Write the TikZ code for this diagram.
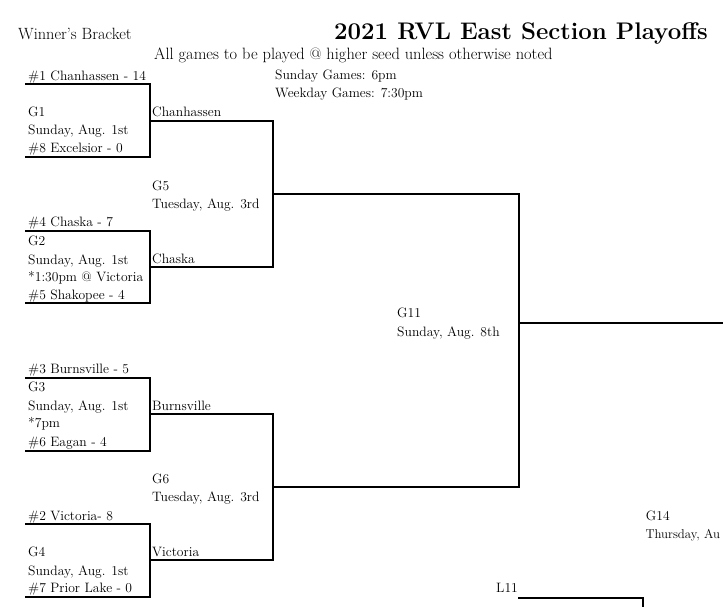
\documentclass[tikz,border=0pt]{standalone}
\begin{document}
\begin{tikzpicture}[x=1pt,y=-1pt]
\tikzset{
  lbl/.style={anchor=base west, inner sep=0pt, font=\fontsize{13.6}{15}\selectfont},
  brk/.style={line width=2.3pt, line join=miter},
}
\useasboundingbox (0,0) rectangle (723,607);
\clip (0,0) rectangle (723,607);
% headings
\node[lbl, font=\fontsize{16.3}{18}\selectfont] (wb) at (18,39.3) {Winner's Bracket};
\node[anchor=base west, inner sep=0pt, font=\fontsize{24}{27}\bfseries\selectfont] (title) at (334,40) {2021 RVL East Section Playoffs};
\node[lbl, font=\fontsize{16.4}{18}\selectfont] (sub) at (154,60) {All games to be played @ higher seed unless otherwise noted};
\node[lbl] (sun) at (275,80) {Sunday Games: 6pm};
\node[lbl] (wkd) at (275,98) {Weekday Games: 7:30pm};
% G1
\node[lbl] (s1) at (28,80.5) {\#1 Chanhassen - 14};
\node[lbl] (g1) at (28,117) {G1};
\node[lbl] (g1d) at (28,135) {Sunday, Aug. 1st};
\node[lbl] (s8) at (28,152.7) {\#8 Excelsior - 0};
\node[lbl] (w1t) at (152,116.7) {Chanhassen};
% G5
\node[lbl] (g5) at (152,190) {G5};
\node[lbl] (g5d) at (152,208.3) {Tuesday, Aug. 3rd};
% G2
\node[lbl] (s4) at (28,226.7) {\#4 Chaska - 7};
\node[lbl] (g2) at (28,245) {G2};
\node[lbl] (g2d) at (28,264) {Sunday, Aug. 1st};
\node[lbl] (g2n) at (28,281.7) {*1:30pm @ Victoria};
\node[lbl] (s5) at (28,299.3) {\#5 Shakopee - 4};
\node[lbl] (w4t) at (152,263.3) {Chaska};
% G3
\node[lbl] (s3) at (28,373.3) {\#3 Burnsville - 5};
\node[lbl] (g3) at (28,391.7) {G3};
\node[lbl] (g3d) at (28,410) {Sunday, Aug. 1st};
\node[lbl] (g3n) at (28,427.7) {*7pm};
\node[lbl] (s6) at (28,446.7) {\#6 Eagan - 4};
\node[lbl] (w3t) at (152,410) {Burnsville};
% G6
\node[lbl] (g6) at (152,483.3) {G6};
\node[lbl] (g6d) at (152,501.7) {Tuesday, Aug. 3rd};
% G4
\node[lbl] (s2) at (28,520) {\#2 Victoria- 8};
\node[lbl] (g4) at (28,556.7) {G4};
\node[lbl] (g4d) at (28,575) {Sunday, Aug. 1st};
\node[lbl] (s7) at (28,592.7) {\#7 Prior Lake - 0};
\node[lbl] (w2t) at (152,556.7) {Victoria};
% G11, G14, L11
\node[lbl] (g11) at (397,317.3) {G11};
\node[lbl] (g11d) at (397,336.7) {Sunday, Aug. 8th};
\node[lbl] (g14) at (645.7,520) {G14};
\node[lbl, font=\fontsize{12.8}{14}\selectfont] (g14d) at (645.3,538.3) {Thursday, Au};
\node[lbl] (l11) at (496,592.3) {L11};
% bracket coordinates
\coordinate (a1) at (25,84);  \coordinate (a1r) at (150,84);
\coordinate (a8) at (25,157); \coordinate (a8r) at (150,157);
\coordinate (a4) at (25,231); \coordinate (a4r) at (150,231);
\coordinate (a5) at (25,303); \coordinate (a5r) at (150,303);
\coordinate (a3) at (25,378); \coordinate (a3r) at (150,378);
\coordinate (a6) at (25,451); \coordinate (a6r) at (150,451);
\coordinate (a2) at (25,524); \coordinate (a2r) at (150,524);
\coordinate (a7) at (25,597); \coordinate (a7r) at (150,597);
\coordinate (w1) at (150,121); \coordinate (w1e) at (273,121);
\coordinate (w4) at (150,267); \coordinate (w4e) at (273,267);
\coordinate (w3) at (150,414); \coordinate (w3e) at (273,414);
\coordinate (w2) at (150,560); \coordinate (w2e) at (273,560);
\coordinate (g5o) at (273,194); \coordinate (g5e) at (519,194);
\coordinate (g6o) at (273,487); \coordinate (g6e) at (519,487);
\coordinate (g11o) at (519,323); \coordinate (g11e) at (730,323);
\coordinate (la) at (518,598); \coordinate (lb) at (643,598); \coordinate (lc) at (643,615);
% first round
\draw[brk] (a1) -- (a1r) -- (a8r) -- (a8);
\draw[brk] (a4) -- (a4r) -- (a5r) -- (a5);
\draw[brk] (a3) -- (a3r) -- (a6r) -- (a6);
\draw[brk] (a2) -- (a2r) -- (a7r) -- (a7);
% second round
\draw[brk] (w1) -- (w1e) -- (w4e) -- (w4);
\draw[brk] (w3) -- (w3e) -- (w2e) -- (w2);
% semifinal
\draw[brk] (g5o) -- (g5e) -- (g6e) -- (g6o);
\draw[brk] (g11o) -- (g11e);
% losers
\draw[brk] (la) -- (lb) -- (lc);
\end{tikzpicture}
\end{document}
